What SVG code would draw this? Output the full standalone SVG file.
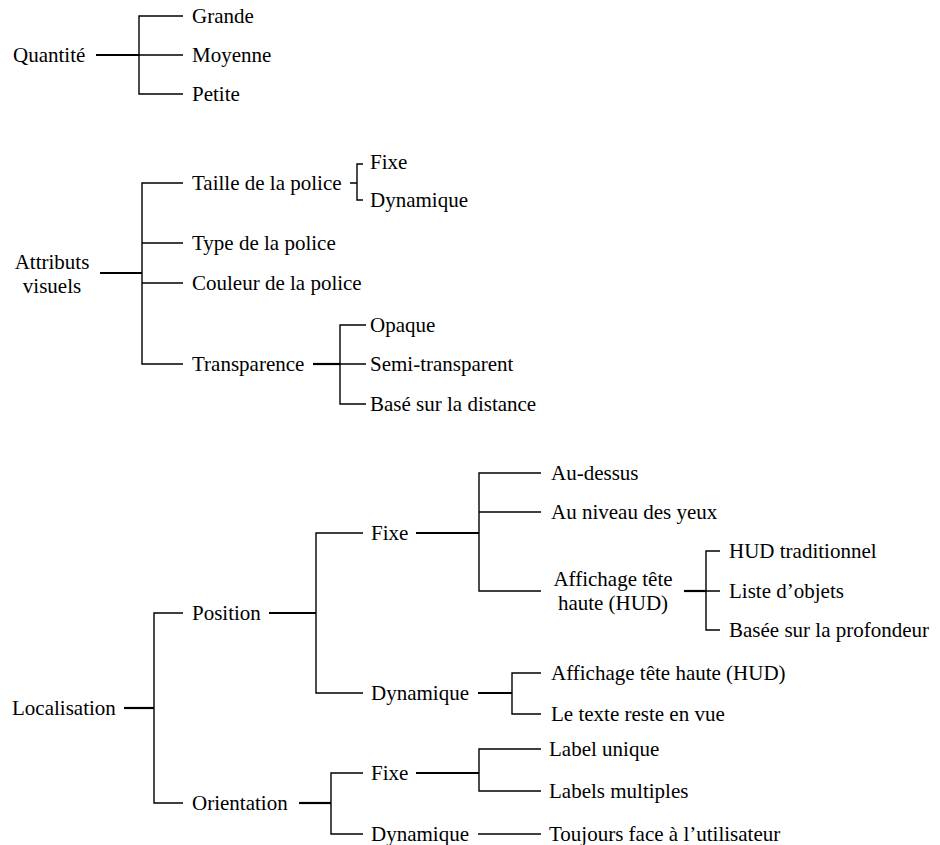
<svg xmlns="http://www.w3.org/2000/svg" width="940" height="845" viewBox="0 0 940 845">
<style>
text{font-family:'Liberation Serif',Tinos,'Times New Roman',Times,'Nimbus Roman','Nimbus Roman No9 L',FreeSerif,'Noto Serif','DejaVu Serif',Georgia,serif;font-size:21px;fill:#000}
.c{text-anchor:middle}
.e{fill:none;stroke:#000;stroke-width:1.4;stroke-linecap:butt;stroke-linejoin:miter}
.t{fill:none;stroke:#000;stroke-width:2.2;stroke-linecap:butt}
</style>
<rect width="940" height="845" fill="#fff"/>
<g id="connectors">
<path class="t" d="M96 55H139"/>
<path class="e" d="M183 16H139V94H183M139 55H183"/>
<path class="t" d="M100 273H142"/>
<path class="e" d="M183 183H142V364H183M142 243H183M142 283H183"/>
<path class="e" d="M350 183H357M363 164H357V200H363"/>
<path class="t" d="M313 364H340"/>
<path class="e" d="M366 325H340V404H366M340 364H366"/>
<path class="t" d="M124 708H154"/>
<path class="e" d="M183 613H154V803H183"/>
<path class="t" d="M269 613H316"/>
<path class="e" d="M363 533H316V693H363"/>
<path class="t" d="M416 533H479"/>
<path class="e" d="M541 473H479V591H541M479 512H541"/>
<path class="t" d="M684 591H706"/>
<path class="e" d="M720 551H706V630H720M706 591H720"/>
<path class="t" d="M478 693H512"/>
<path class="e" d="M541 673H512V714H541"/>
<path class="t" d="M299 803H331"/>
<path class="e" d="M363 773H331V834H363"/>
<path class="t" d="M416 773H479"/>
<path class="e" d="M541 749H479V791H541"/>
<path class="e" d="M478 834H541"/>
</g>
<g id="quantite"><text x="13" y="62">Quantité</text></g>
<g id="grande"><text x="192" y="23">Grande</text></g>
<g id="moyenne"><text x="192" y="62">Moyenne</text></g>
<g id="petite"><text x="192" y="101">Petite</text></g>

<g id="attributs"><text class="c" x="52" y="269">Attributs</text><text class="c" x="52" y="293">visuels</text></g>
<g id="taille"><text x="192" y="190">Taille de la police</text></g>
<g id="taille-fixe"><text x="370" y="169">Fixe</text></g>
<g id="taille-dynamique"><text x="370" y="207">Dynamique</text></g>
<g id="type"><text x="192" y="250">Type de la police</text></g>
<g id="couleur"><text x="192" y="290">Couleur de la police</text></g>
<g id="transparence"><text x="192" y="371">Transparence</text></g>
<g id="opaque"><text x="370" y="332">Opaque</text></g>
<g id="semi"><text x="370" y="371">Semi-transparent</text></g>
<g id="distance"><text x="370" y="411">Basé sur la distance</text></g>

<g id="localisation"><text x="12" y="715">Localisation</text></g>
<g id="position"><text x="192" y="620">Position</text></g>
<g id="pos-fixe"><text x="371" y="540">Fixe</text></g>
<g id="au-dessus"><text x="551" y="480">Au-dessus</text></g>
<g id="yeux"><text x="551" y="519">Au niveau des yeux</text></g>
<g id="hud"><text class="c" x="613" y="586">Affichage tête</text><text class="c" x="613" y="610">haute (HUD)</text></g>
<g id="hud-trad"><text x="729" y="558">HUD traditionnel</text></g>
<g id="liste"><text x="729" y="598">Liste d’objets</text></g>
<g id="profondeur"><text x="729" y="637">Basée sur la profondeur</text></g>
<g id="pos-dynamique"><text x="371" y="700">Dynamique</text></g>
<g id="dyn-hud"><text x="551" y="680">Affichage tête haute (HUD)</text></g>
<g id="en-vue"><text x="551" y="721">Le texte reste en vue</text></g>
<g id="orientation"><text x="192" y="810">Orientation</text></g>
<g id="or-fixe"><text x="371" y="780">Fixe</text></g>
<g id="label-unique"><text x="549" y="756">Label unique</text></g>
<g id="labels-multiples"><text x="549" y="798">Labels multiples</text></g>
<g id="or-dynamique"><text x="371" y="841">Dynamique</text></g>
<g id="face"><text x="549" y="841">Toujours face à l’utilisateur</text></g>
</svg>
